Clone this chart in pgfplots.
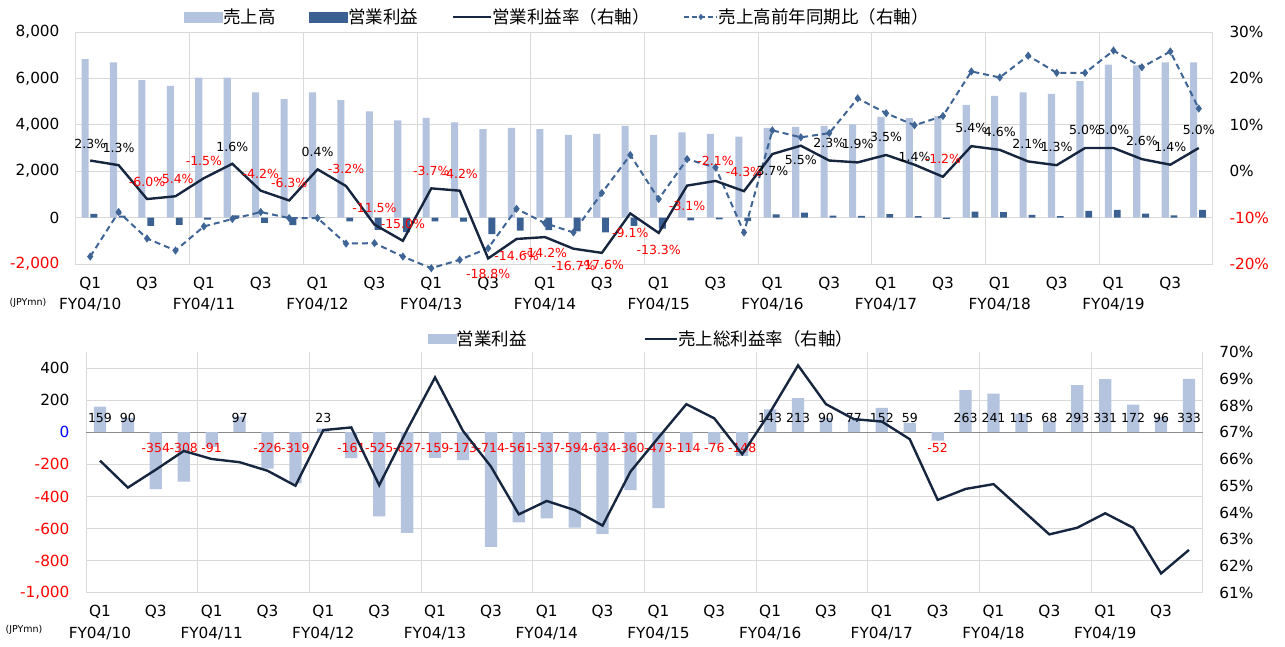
\documentclass[border=0pt]{standalone}
\usepackage{fontspec}
\setmainfont{DejaVu Sans}
\newfontfamily\jp{Noto Sans CJK JP}
\usepackage{pgfplots}
\pgfplotsset{compat=1.18}
\usepackage{pgfplotstable}
\definecolor{sales}{HTML}{B4C3DE}
\definecolor{opdark}{HTML}{3B6092}
\definecolor{navy}{HTML}{17263F}
\definecolor{yoy}{HTML}{3F6496}
\definecolor{gridc}{HTML}{D9D9D9}
\definecolor{zeroc}{HTML}{8C8C8C}
\newcommand{\tickfont}{\fontsize{15.3}{18}\selectfont}
\newcommand{\lblfont}{\fontsize{12.5}{15}\selectfont}
\newcommand{\legfont}{\jp\fontsize{17.5}{20}\selectfont}

\pgfplotstableread{
x sales op opm dy yoy gm ly
0 6835 159 2.3 17 -18.4 65.94 90
1 6691 90 1.3 17 -8.8 64.93 90
2 5928 -354 -6.0 17 -14.5 65.60 -100
3 5683 -308 -5.4 17 -17.1 66.30 -100
4 6029 -91 -1.5 17 -11.9 66.00 -100
5 6029 97 1.6 17 -10.3 65.88 90
6 5396 -226 -4.2 17 -8.8 65.56 -100
7 5108 -319 -6.3 17 -10.1 65.00 -100
8 5396 23 0.4 17 -10.1 67.08 90
9 5065 -161 -3.2 17 -15.6 67.18 -100
10 4576 -525 -11.5 17 -15.5 65.02 -100
11 4187 -627 -15.0 17 -18.4 67.09 -100
12 4302 -159 -3.7 17 -20.9 69.05 -100
13 4101 -173 -4.2 17 -19.1 67.05 -100
14 3813 -714 -18.8 -16 -16.6 65.72 -100
15 3871 -561 -14.6 -17 -8.1 63.93 -100
16 3813 -537 -14.2 -16 -11.2 64.43 -100
17 3568 -594 -16.7 -17 -13.2 64.09 -100
18 3612 -634 -17.6 -12 -4.7 63.51 -100
19 3957 -360 -9.1 -20 3.5 65.53 -100
20 3568 -473 -13.3 -17 -6.0 66.80 -100
21 3669 -114 -3.1 -20 2.6 68.05 -100
22 3612 -76 -2.1 20 0.8 67.52 -100
23 3496 -148 -4.3 19 -13.2 66.18 -100
24 3871 143 3.7 -17 8.8 67.75 90
25 3914 213 5.5 -14 7.3 69.50 90
26 3957 90 2.3 18 8.2 68.05 90
27 4014 77 1.9 18 15.7 67.49 90
28 4345 152 3.5 18 12.5 67.40 90
29 4288 59 1.4 8 9.9 66.74 90
30 4374 -52 -1.2 18 11.9 64.47 -100
31 4863 263 5.4 18 21.5 64.88 90
32 5252 241 4.6 18 20.2 65.06 90
33 5396 115 2.1 18 24.9 64.12 90
34 5338 68 1.3 18 21.2 63.18 90
35 5885 293 5.0 18 21.2 63.43 90
36 6590 331 5.0 18 26.0 63.97 90
37 6561 172 2.6 18 22.4 63.43 90
38 6691 96 1.4 18 25.8 61.72 90
39 6691 333 5.0 18 13.5 62.60 90
}\data

\pgfplotsset{
  base/.style={
    scale only axis,
    xmin=-0.5, xmax=39.5,
    major tick length=0pt, minor tick length=0pt,
    tick label style={font=\tickfont},
    /pgf/number format/assume math mode=true,
  },
  qticks/.style={
    xtick={0,2,...,38},
    xticklabels={Q1,Q3,Q1,Q3,Q1,Q3,Q1,Q3,Q1,Q3,Q1,Q3,Q1,Q3,Q1,Q3,Q1,Q3,Q1,Q3},
    xticklabel style={anchor=center, yshift=-19.5pt},
    extra x ticks={0,4,...,36},
    extra x tick labels={FY04/10,FY04/11,FY04/12,FY04/13,FY04/14,FY04/15,FY04/16,FY04/17,FY04/18,FY04/19},
    extra x tick style={xticklabel style={yshift=-21.5pt}},
  },
}

\begin{document}
\begin{tikzpicture}
\useasboundingbox (0,0) rectangle (1285pt,-646pt);

% ================= TOP CHART =================
\begin{axis}[base, qticks,
  at={(76pt,-264pt)}, anchor=south west,
  width=1137pt, height=232pt,
  ymin=-2000, ymax=8000,
  ytick={-2000,0,...,8000},
  yticklabels={{\color{red}-2,000},0,{2,000},{4,000},{6,000},{8,000}},
  yticklabel style={xshift=-13pt},
  ymajorgrids, grid style={gridc, line width=1pt},
  minor xtick={3.5,7.5,...,35.5}, xminorgrids,
  minor grid style={gridc, line width=1pt},
  axis line style={gridc, line width=1pt},
]
\addplot[ybar, bar width=0.25, bar shift=-0.18, fill=sales, draw=none] table[x=x,y=sales]{\data};
\addplot[ybar, bar width=0.24, bar shift=0.13, fill=opdark, draw=none] table[x=x,y=op]{\data};
\end{axis}

\begin{axis}[base,
  at={(76pt,-264pt)}, anchor=south west,
  width=1137pt, height=232pt,
  ymin=-20, ymax=30,
  axis x line=none, axis y line*=right,
  axis line style={draw=none},
  ytick={-20,-10,...,30},
  yticklabels={{\color{red}-20\%},{\color{red}-10\%},0\%,10\%,20\%,30\%},
  yticklabel style={xshift=13pt},
  clip=false,
  legend columns=4,
  legend style={draw=none, fill=none, at={(0.0950,1.065)}, anchor=west,
    inner sep=0pt, font=\legfont, nodes={inner sep=0.5pt},
    /tikz/every even column/.append style={column sep=33pt}},
  legend cell align=left,
]
\addlegendimage{legend image code/.code={\fill[sales] (0pt,-5pt) rectangle (38pt,5pt);}}
\addlegendentry{売上高}
\addlegendimage{legend image code/.code={\fill[opdark] (0pt,-5pt) rectangle (38pt,5pt);}}
\addlegendentry{営業利益}
\addlegendimage{legend image code/.code={\draw[navy, line width=2.4pt] (0pt,0pt) -- (38pt,0pt);}}
\addlegendentry{営業利益率（右軸）\hspace{11pt}}
\addlegendimage{legend image code/.code={\draw[yoy, line width=2pt, dash pattern=on 5pt off 3pt] (0pt,0pt) -- (33pt,0pt);
  \fill[yoy] (16.5pt,2.8pt) -- (18.6pt,0pt) -- (16.5pt,-2.8pt) -- (14.4pt,0pt) -- cycle;}}
\addlegendentry{売上高前年同期比（右軸）}

\addplot[forget plot, yoy, line width=2pt, dash pattern=on 6pt off 4pt, mark=diamond*, mark size=2.5pt, mark options={solid}]
  table[x=x,y=yoy]{\data};
\addplot[forget plot, navy, line width=2.4pt, point meta=y,
  visualization depends on={\thisrow{opm}\as\mval},
  visualization depends on={\thisrow{dy}\as\mydy},
  nodes near coords={\ifdim\mval pt<0pt\color{red}\fi\pgfmathprintnumber[fixed,fixed zerofill,precision=1,assume math mode=true]{\pgfplotspointmeta}\%},
  every node near coord/.append style={anchor=center, yshift=\mydy pt, text=black, font=\lblfont, inner sep=0pt}]
  table[x=x,y=opm]{\data};
\end{axis}

\node[font=\fontsize{9.5}{11}\selectfont] at (28pt,-303pt) {(JPYmn)};

% ================= BOTTOM CHART =================
\begin{axis}[base, qticks,
  at={(86pt,-592.7pt)}, anchor=south west,
  width=1117pt, height=240.7pt,
  ymin=-1000, ymax=500,
  ytick={-1000,-800,...,400},
  yticklabels={{\color{red}-1,000},{\color{red}-800},{\color{red}-600},{\color{red}-400},{\color{red}-200},{\color{blue}0},200,400},
  yticklabel style={xshift=-13pt},
  ymajorgrids, grid style={gridc, line width=1pt},
  extra y ticks={0}, extra y tick labels={},
  extra y tick style={grid style={zeroc, line width=1.2pt}},
  minor xtick={-0.5,3.5,...,39.5}, xminorgrids,
  minor grid style={gridc, line width=1pt},
  axis line style={draw=none},
  clip=false,
]
\addplot[ybar, bar width=0.44, bar shift=0, fill=sales, draw=none] table[x=x,y=op]{\data};
\addplot[draw=none, point meta=explicit,
  visualization depends on={\thisrow{op}\as\oval},
  nodes near coords={\ifdim\oval pt<0pt\color{red}\fi\pgfmathprintnumber[fixed,precision=0,assume math mode=true]{\pgfplotspointmeta}},
  every node near coord/.append style={anchor=center, text=black, font=\lblfont, inner sep=0pt}]
  table[x=x,y=ly,meta=op]{\data};
\end{axis}

\begin{axis}[base,
  at={(86pt,-592.7pt)}, anchor=south west,
  width=1117pt, height=240.7pt,
  ymin=61, ymax=70,
  axis x line=none, axis y line*=right,
  axis line style={draw=none},
  ytick={61,...,70},
  yticklabel={\pgfmathprintnumber{\tick}\%},
  yticklabel style={xshift=13pt},
  legend columns=2,
  legend style={draw=none, fill=none, at={(0.306,1.054)}, anchor=west,
    inner sep=0pt, font=\legfont, nodes={inner sep=0.5pt},
    /tikz/every even column/.append style={column sep=116pt}},
  legend cell align=left,
]
\addlegendimage{legend image code/.code={\fill[sales] (0pt,-4.5pt) rectangle (28pt,4.5pt);}}
\addlegendentry{営業利益\hspace{5pt}}
\addlegendimage{legend image code/.code={\draw[navy, line width=2.4pt] (0pt,0pt) -- (32pt,0pt);}}
\addlegendentry{売上総利益率（右軸）}
\addplot[forget plot, navy, line width=2.4pt] table[x=x,y=gm]{\data};
\end{axis}

\node[font=\fontsize{9.5}{11}\selectfont] at (24pt,-630pt) {(JPYmn)};
\end{tikzpicture}
\end{document}
